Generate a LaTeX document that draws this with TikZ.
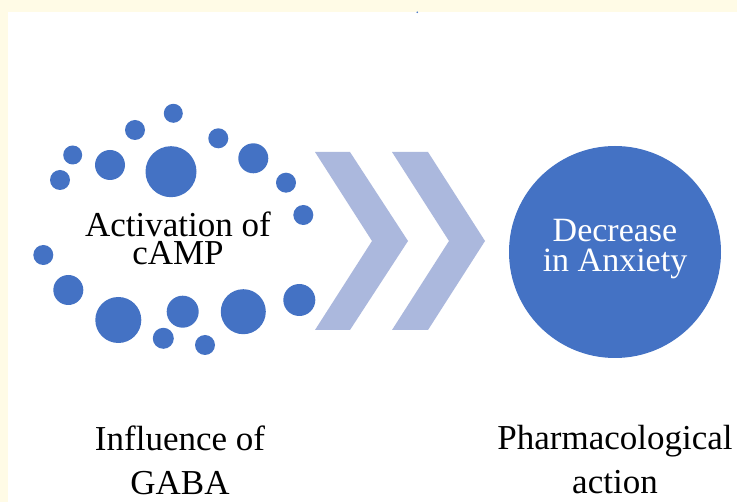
\documentclass[tikz,border=0pt]{standalone}
\usepackage{fontspec}
\setmainfont{Liberation Serif}
\definecolor{cream}{HTML}{FFFBE6}
\definecolor{dotblue}{HTML}{4472C4}
\definecolor{chev}{HTML}{ABB8DD}
\tikzset{
  dot/.style={fill=dotblue},
  chevron/.style={fill=chev, draw=none},
  label/.style={align=center, anchor=base, inner sep=0pt, text=black,
    font=\fontsize{35}{44}\selectfont},
}
\begin{document}
\begin{tikzpicture}[x=1pt, y=-1pt]
  % page background and white panel
  \fill[cream] (0,0) rectangle (737,502);
  \fill[white] (8,12) rectangle (737,502);
  \useasboundingbox (0,0) rectangle (737,502);
  \fill[dotblue] (417.3,12.3) circle (0.9);

  % ring of dots
  \foreach \x/\y/\r in {
      173.3/113.3/9.5, 135/130/10, 171/171.7/25.5, 110/165/15,
      72.7/155/9.5, 60/180/10, 218.3/138.3/10, 253.3/158.3/15,
      286/182.7/10, 303.3/215/10, 43.3/255/10, 68.3/290/15,
      118.3/320/23, 182.7/311.7/16, 243.3/311.7/22.5, 299.3/300/16,
      163.3/338.3/10.5, 205/345/10}
    \fill[dot] (\x,\y) circle (\r);

  % base anchor of a multi-line label sits on its last line
  \node[label, font=\fontsize{35}{28}\selectfont] (camp) at (178,265)
    {Activation of\\cAMP};

  % chevrons
  \fill[chevron] (315,152) -- (350,152) -- (408,241) -- (350,330)
    -- (315,330) -- (372,241) -- cycle;
  \fill[chevron] (392,152) -- (428,152) -- (485,241) -- (428,330)
    -- (392,330) -- (449,241) -- cycle;

  % outcome circle
  \node[circle, fill=dotblue, minimum size=212pt, inner sep=0pt] (anx) at (615,252) {};
  \node[label, text=white, font=\fontsize{34}{30}\selectfont] (anxtext) at (615,272)
    {Decrease\\in Anxiety};

  % captions
  \node[label] (gaba) at (180,495) {Influence of\\GABA};
  \node[label] (pharm) at (615,494) {Pharmacological\\action};
\end{tikzpicture}
\end{document}
